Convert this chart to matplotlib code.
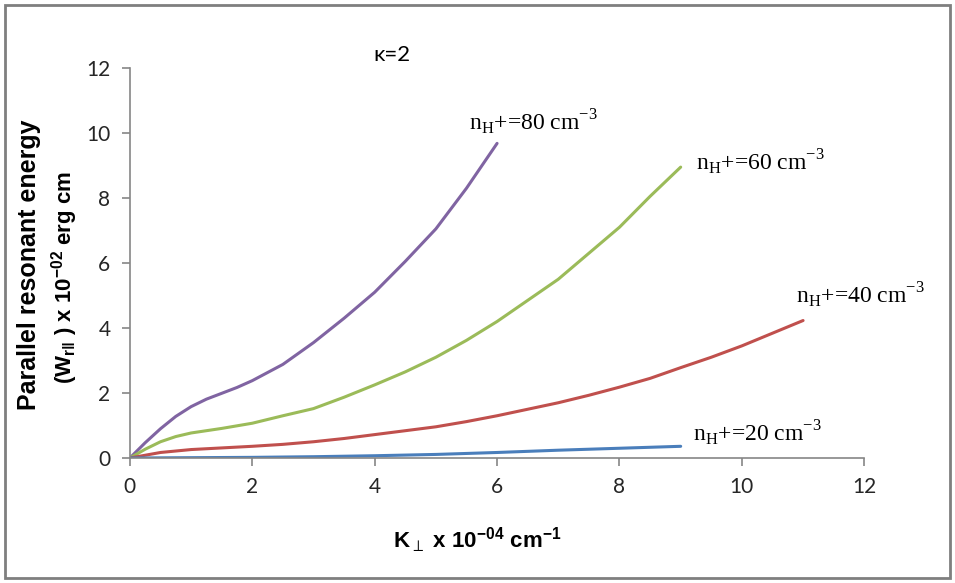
import numpy as np
import matplotlib
matplotlib.use("Agg")
import matplotlib.pyplot as plt
from matplotlib.patches import Rectangle

# values (kappa = 2)
k_80 = [0, 0.25, 0.5, 0.75, 1, 1.25, 1.5, 1.75, 2, 2.5, 3, 3.5, 4, 4.5, 5, 5.5, 6]
w_80 = [0, 0.47, 0.9, 1.28, 1.58, 1.81, 1.99, 2.17, 2.38, 2.88, 3.55, 4.3, 5.1,
        6.05, 7.05, 8.3, 9.68]

k_60 = [0, 0.25, 0.5, 0.75, 1, 1.5, 2, 2.5, 3, 3.5, 4, 4.5, 5, 5.5, 6, 6.5, 7,
        7.5, 8, 8.5, 9]
w_60 = [0, 0.27, 0.5, 0.66, 0.77, 0.91, 1.07, 1.3, 1.52, 1.87, 2.25, 2.65, 3.1,
        3.62, 4.2, 4.85, 5.5, 6.3, 7.1, 8.05, 8.95]

k_40 = [0, 0.5, 1, 1.5, 2, 2.5, 3, 3.5, 4, 4.5, 5, 5.5, 6, 6.5, 7, 7.5, 8,
        8.5, 9, 9.5, 10, 10.5, 11]
w_40 = [0, 0.17, 0.26, 0.31, 0.36, 0.42, 0.5, 0.6, 0.72, 0.84, 0.96, 1.12, 1.3,
        1.5, 1.7, 1.93, 2.18, 2.45, 2.78, 3.1, 3.45, 3.84, 4.23]

k_20 = [0, 1, 2, 3, 4, 5, 6, 7, 8, 9]
w_20 = [0, 0.01, 0.02, 0.04, 0.07, 0.11, 0.17, 0.24, 0.3, 0.36]

labels = ['80', '60', '40', '20']
label_pos = [(5.54, 10.34), (9.25, 9.1), (10.88, 5.0), (9.2, 0.77)]
colors = ['#8064A2', '#9BBB59', '#C0504D', '#4A7EBB']
xticks = [0, 2, 4, 6, 8, 10, 12]
yticks = [0, 2, 4, 6, 8, 10, 12]

fig = plt.figure(figsize=(9.55, 5.83), dpi=100)
ax = fig.add_axes([0.136, 0.2144, 0.769, 0.669])

series = [(k_80, w_80), (k_60, w_60), (k_40, w_40), (k_20, w_20)]
for (k, w), c in zip(series, colors):
    ax.plot(k, w, color=c, lw=2.2, solid_capstyle='round', solid_joinstyle='round')

for lab, (x, y) in zip(labels, label_pos):
    ax.text(x, y, r'n$_{\mathregular{H}}$+=' + lab + r' cm$^{\mathregular{-3}}$',
            fontsize=17, family='Liberation Serif', va='center', ha='left')

ax.set_xlim(0, 12)
ax.set_ylim(0, 12)
ax.set_xticks(xticks)
ax.set_yticks(yticks)
for s in ['top', 'right']:
    ax.spines[s].set_visible(False)
for s in ['left', 'bottom']:
    ax.spines[s].set_color('#868686')
    ax.spines[s].set_linewidth(1.2)
ax.tick_params(direction='out', length=6, width=1.2, color='#868686',
               labelsize=15, labelcolor='#262626', pad=8)
for t in ax.get_xticklabels() + ax.get_yticklabels():
    t.set_family('Lato')

fig.text(392 / 955, 1 - 55 / 583, 'κ=2', fontsize=16,
         family=['Lato', 'DejaVu Sans'], ha='center', va='center')

# axis titles
fig.text(477 / 955, 1 - 540 / 583,
         r'K$_{\perp}$ x 10$^{\mathregular{-04}}$ cm$^{\mathregular{-1}}$',
         fontsize=16, fontweight='bold', family='Liberation Sans',
         ha='center', va='center')
fig.text(29 / 955, 1 - 265 / 583, 'Parallel resonant energy', rotation=90,
         fontsize=18, fontweight='bold', family='Liberation Sans',
         ha='center', va='center')
fig.text(65 / 955, 1 - 277 / 583,
         r'(W$_{\mathregular{r\Vert}}$ ) x 10$^{\mathregular{-02}}$ erg cm',
         rotation=90, fontsize=16, fontweight='bold', family='Liberation Sans',
         ha='center', va='center')

fig.patches.append(Rectangle((0.005, 0.008), 0.99, 0.983, transform=fig.transFigure,
                             fill=False, edgecolor='#7f7f7f', lw=2))

fig.savefig('out.png', dpi=100)
